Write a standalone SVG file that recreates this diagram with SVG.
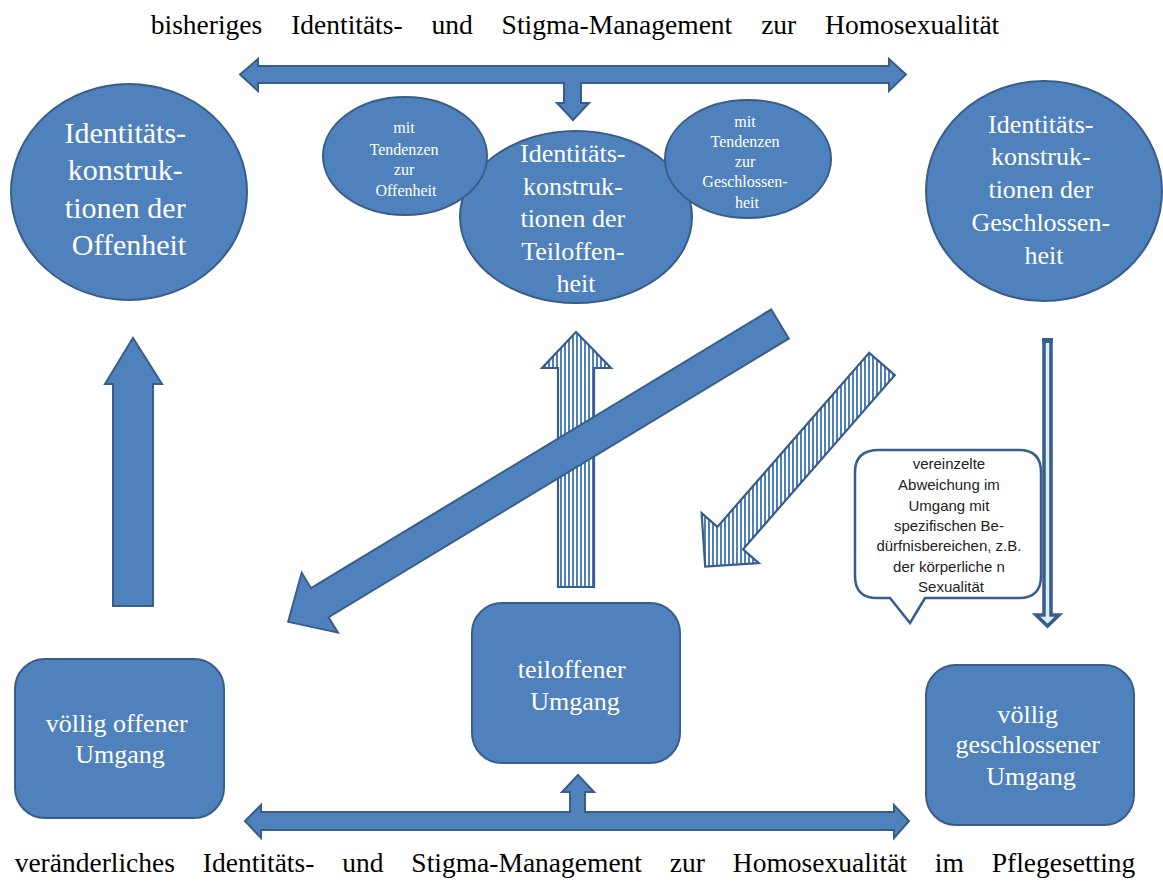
<svg xmlns="http://www.w3.org/2000/svg" width="1163" height="883" viewBox="0 0 1163 883">
<defs>
<style>
.shape{fill:#4F81BD;stroke:#385D8A;stroke-width:2;stroke-linejoin:miter}
.striped{fill:url(#vstripes);stroke:#385D8A;stroke-width:2.2;stroke-linejoin:miter}
.t{font-family:"Liberation Serif","Times New Roman",serif;fill:#fff;text-anchor:middle}
.title{font-family:"Liberation Serif","Times New Roman",serif;fill:#000;font-size:27.5px;text-anchor:middle}
.small{font-size:16px}
.call{font-family:"Liberation Sans",Arial,sans-serif;fill:#222;font-size:15px;text-anchor:middle}
</style>
<pattern id="vstripes" patternUnits="userSpaceOnUse" width="4" height="10">
<rect width="4" height="10" fill="#fff"/>
<rect width="2" height="10" fill="#4F81BD"/>
</pattern>
</defs>
<rect width="1163" height="883" fill="#fff"/>

<text class="title" x="575" y="34" word-spacing="22">bisheriges Identitäts- und Stigma-Management zur Homosexualität</text>
<text class="title" x="575" y="872" word-spacing="21">veränderliches Identitäts- und Stigma-Management zur Homosexualität im Pflegesetting</text>

<g id="node-offenheit">
<ellipse class="shape" cx="129" cy="192" rx="118" ry="108"/>
<text class="t" font-size="30">
<tspan x="129" y="143">Identitäts-</tspan>
<tspan x="129" y="180">konstruk-</tspan>
<tspan x="129" y="218">tionen der</tspan>
<tspan x="129" y="255">Offenheit</tspan>
</text>
</g>

<g id="node-teiloffenheit">
<ellipse class="shape" cx="576" cy="217" rx="116" ry="86"/>
<text class="t" font-size="26">
<tspan x="576" y="162">Identitäts-</tspan>
<tspan x="576" y="195">konstruk-</tspan>
<tspan x="576" y="227">tionen der</tspan>
<tspan x="576" y="260">Teiloffen-</tspan>
<tspan x="576" y="292">heit</tspan>
</text>
</g>

<g id="node-tendenz-offen">
<ellipse class="shape" cx="405" cy="156" rx="82" ry="59"/>
<text class="t small">
<tspan x="406" y="133">mit</tspan>
<tspan x="406" y="155">Tendenzen</tspan>
<tspan x="406" y="175">zur</tspan>
<tspan x="406" y="196">Offenheit</tspan>
</text>
</g>

<g id="node-tendenz-geschlossen">
<ellipse class="shape" cx="748" cy="159" rx="83" ry="59"/>
<text class="t small">
<tspan x="747" y="127">mit</tspan>
<tspan x="747" y="147">Tendenzen</tspan>
<tspan x="747" y="167">zur</tspan>
<tspan x="747" y="187">Geschlossen-</tspan>
<tspan x="747" y="208">heit</tspan>
</text>
</g>

<g id="node-geschlossenheit">
<ellipse class="shape" cx="1044" cy="191" rx="118" ry="110"/>
<text class="t" font-size="26">
<tspan x="1044" y="133">Identitäts-</tspan>
<tspan x="1044" y="165">konstruk-</tspan>
<tspan x="1044" y="198">tionen der</tspan>
<tspan x="1044" y="231">Geschlossen-</tspan>
<tspan x="1044" y="264">heit</tspan>
</text>
</g>

<g id="node-offen-umgang">
<rect class="shape" x="15" y="659" width="209" height="159" rx="30" ry="30"/>
<text class="t" font-size="26">
<tspan x="120" y="732">völlig offener</tspan>
<tspan x="120" y="763">Umgang</tspan>
</text>
</g>

<g id="node-teiloffen-umgang">
<rect class="shape" x="472" y="603" width="208" height="160" rx="30" ry="30"/>
<text class="t" font-size="26">
<tspan x="575" y="678">teiloffener</tspan>
<tspan x="575" y="710">Umgang</tspan>
</text>
</g>

<g id="node-geschlossen-umgang">
<rect class="shape" x="926" y="665" width="208" height="160" rx="30" ry="30"/>
<text class="t" font-size="26">
<tspan x="1031" y="723">völlig</tspan>
<tspan x="1031" y="753">geschlossener</tspan>
<tspan x="1031" y="785">Umgang</tspan>
</text>
</g>

<g id="node-callout">
<path d="M879,450 L1019,450 Q1041,450 1041,472 L1041,576 Q1041,598 1019,598 L925,598 L910,623 L890,598 L877,598 Q855,598 855,576 L855,472 Q855,450 879,450 Z" fill="#fff" stroke="#385D8A" stroke-width="2.5" stroke-linejoin="miter"/>
<text class="call">
<tspan x="951" y="469">vereinzelte</tspan>
<tspan x="951" y="490">Abweichung im</tspan>
<tspan x="951" y="511">Umgang mit</tspan>
<tspan x="951" y="531">spezifischen Be-</tspan>
<tspan x="951" y="551">dürfnisbereichen, z.B.</tspan>
<tspan x="951" y="572">der körperliche n</tspan>
<tspan x="951" y="592">Sexualität</tspan>
</text>
</g>

<g id="connectors">
<path id="arrow-top" class="shape" d="M240,74.5 L258,59 L258,66 L889,66 L889,59 L906,74.5 L889,91 L889,83 L581,83 L581,103 L589,103 L573,120 L557,103 L564,103 L564,83 L258,83 L258,91 Z"/>
<path id="arrow-bottom" class="shape" d="M245,821 L261,805 L261,812 L570,812 L570,792 L562,792 L578,775 L594,792 L585,792 L585,812 L894,812 L894,805 L909,821 L894,838 L894,830 L261,830 L261,838 Z"/>
<path id="arrow-left-up" class="shape" d="M133,338 L162,384 L153,384 L153,606 L113,606 L113,384 L105,384 Z"/>
<path id="arrow-mid-up" class="striped" d="M576,332 L611,368 L594,368 L594,587 L558,587 L558,368 L542,368 Z"/>
<path id="arrow-diag-big" class="shape" transform="translate(780,324) rotate(148.8)" d="M0,-17 L538,-17 L538,-35 L575,0 L538,35 L538,17 L0,17 Z"/>
<path id="arrow-diag-striped" class="striped" d="M869.2,352.8 L894.8,375.2 L743,549.3 L758.8,563.1 L705.2,566.7 L701.6,513.1 L717.4,526.9 Z"/>
<path id="arrow-right-down" d="M1044,340 L1051,340 L1051,615 L1059,615 L1047.5,626 L1036,615 L1044,615 Z" fill="#DBEEF4" stroke="#385D8A" stroke-width="3.5" stroke-linejoin="miter"/>
<rect x="1042" y="338" width="11" height="5" fill="#385D8A"/>
</g>
</svg>
